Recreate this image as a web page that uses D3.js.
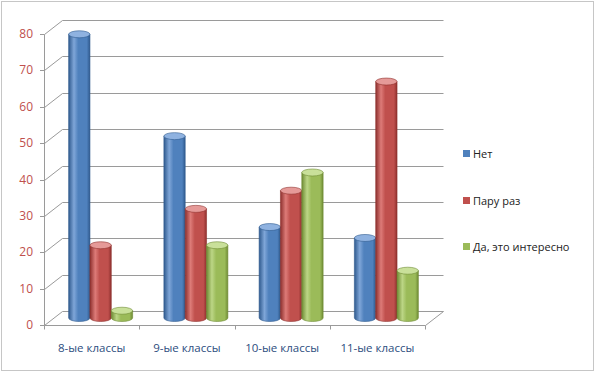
<!DOCTYPE html>
<html>
<head>
<meta charset="utf-8">
<script src="https://cdn.jsdelivr.net/npm/d3@7"></script>
<style>
  body { margin: 0; background: #fff; }
  svg { display: block; }
</style>
</head>
<body>
<script>
var svgWidth = 596;
var svgHeight = 372;

// chart data
var categories = ["8-ые классы", "9-ые классы", "10-ые классы", "11-ые классы"];
var seriesNames = ["Нет", "Пару раз", "Да, это интересно"];
var net = [78, 50, 25, 22];
var paruRaz = [20, 30, 35, 65];
var interesno = [2, 20, 40, 13];
var yTicks = [0, 10, 20, 30, 40, 50, 60, 70, 80];

var series = [net, paruRaz, interesno];
var colors = [
  { base: "#4f81bd", light: "#7fa6d8", dark: "#2f5a8e", top: "#8fb2e0" },
  { base: "#c0504d", light: "#dd7b78", dark: "#8e302e", top: "#e59a98" },
  { base: "#9bbb59", light: "#bcd686", dark: "#6f8c34", top: "#c9e09a" }
];

// 3d depth offset of back wall
var depth = { dx: 18, dy: -14 };

var svg = d3.select("body")
  .append("svg")
  .attr("width", svgWidth)
  .attr("height", svgHeight);

// outer border
svg.append("rect")
  .attr("x", 1.5).attr("y", 1.5)
  .attr("width", svgWidth - 4).attr("height", svgHeight - 3)
  .attr("fill", "none")
  .attr("stroke", "#8c8c8c")
  .attr("stroke-dasharray", "1,1");

var x = d3.scaleBand().domain(categories).range([44, 425]);
var y = d3.scaleLinear().domain([0, 80]).range([325, 34]);
var xs = d3.scaleBand().domain(d3.range(seriesNames.length)).range([0, 64]);

var defs = svg.append("defs");
colors.forEach(function(c, i) {
  var g = defs.append("linearGradient").attr("id", "cyl" + i)
    .attr("x1", "0").attr("x2", "1").attr("y1", "0").attr("y2", "0");
  g.append("stop").attr("offset", "0%").attr("stop-color", c.dark);
  g.append("stop").attr("offset", "25%").attr("stop-color", c.light);
  g.append("stop").attr("offset", "45%").attr("stop-color", c.base);
  g.append("stop").attr("offset", "85%").attr("stop-color", c.base);
  g.append("stop").attr("offset", "100%").attr("stop-color", c.dark);
});

var grid = svg.append("g").attr("stroke", "#9a9a9a").attr("fill", "none").attr("stroke-width", 1);

// back wall gridlines + diagonal connectors
yTicks.forEach(function(t) {
  var yy = Math.round(y(t)) + 0.5;
  grid.append("path")
    .attr("d", "M44.5," + yy + "L" + (44.5 + depth.dx) + "," + (yy + depth.dy) +
      "H" + (425.5 + depth.dx));
});

// floor front edge and right diagonal
var y0 = Math.round(y(0)) + 0.5;
grid.append("path").attr("d", "M44.5," + y0 + "H425.5L" + (425.5 + depth.dx) + "," + (y0 + depth.dy));

// y axis line and ticks
var yTop = Math.round(y(80)) + 0.5;
grid.append("path").attr("d", "M44.5," + yTop + "V" + y0);
yTicks.forEach(function(t) {
  var yy = Math.round(y(t)) + 0.5;
  grid.append("path").attr("d", "M40," + yy + "H44.5");
});

// category ticks
x.domain().concat(["end"]).forEach(function(c, i) {
  var xx = Math.round(44 + i * x.step()) + 0.5;
  grid.append("path").attr("d", "M" + xx + "," + y0 + "V" + (y0 + 4));
});

// y tick labels
svg.append("g").selectAll("text")
  .data(yTicks).enter().append("text")
  .attr("x", 33).attr("y", function(d) { return y(d) + 4; })
  .attr("text-anchor", "end")
  .attr("font-family", "Open Sans, sans-serif")
  .attr("font-size", 12)
  .attr("fill", "#c0504d")
  .text(function(d) { return d; });

// category labels
svg.append("g").selectAll("text")
  .data(categories).enter().append("text")
  .attr("x", function(d) { return x(d) + x.bandwidth() / 2; })
  .attr("y", 352)
  .attr("text-anchor", "middle")
  .attr("font-family", "Open Sans, sans-serif")
  .attr("font-size", 11.5)
  .attr("fill", "#2c4d7e")
  .text(function(d) { return d; });

// cylinders, placed in the middle depth plane
var mid = { dx: depth.dx / 2, dy: depth.dy / 2 };
var bars = svg.append("g");
categories.forEach(function(cat, ci) {
  series.forEach(function(vals, si) {
    var bw = xs.bandwidth();
    var x0 = x(cat) + (x.bandwidth() - 64) / 2 + xs(si) + mid.dx;
    var x1 = x0 + bw;
    var rx = bw / 2, ry = 3.5;
    var by = y(0) + mid.dy;
    var ty = y(vals[ci]) + mid.dy;
    var c = colors[si];
    bars.append("path")
      .attr("d", "M" + x0 + "," + ty + "L" + x0 + "," + by +
        "A" + rx + "," + ry + " 0 0 0 " + x1 + "," + by +
        "L" + x1 + "," + ty + "Z")
      .attr("fill", "url(#cyl" + si + ")")
      .attr("stroke", c.dark).attr("stroke-width", 0.6);
    bars.append("ellipse")
      .attr("cx", x0 + rx).attr("cy", ty)
      .attr("rx", rx).attr("ry", ry)
      .attr("fill", c.top)
      .attr("stroke", c.dark).attr("stroke-width", 0.6);
  });
});

// legend
var legendY = [154, 201, 247];
var legend = svg.append("g");
seriesNames.forEach(function(name, i) {
  legend.append("rect")
    .attr("x", 463).attr("y", legendY[i] - 4)
    .attr("width", 7).attr("height", 7)
    .attr("fill", colors[i].base);
  legend.append("text")
    .attr("x", 473).attr("y", legendY[i] + 4)
    .attr("font-family", "Open Sans, sans-serif")
    .attr("font-size", 11)
    .attr("fill", "#222")
    .text(name);
});
</script>
</body>
</html>
